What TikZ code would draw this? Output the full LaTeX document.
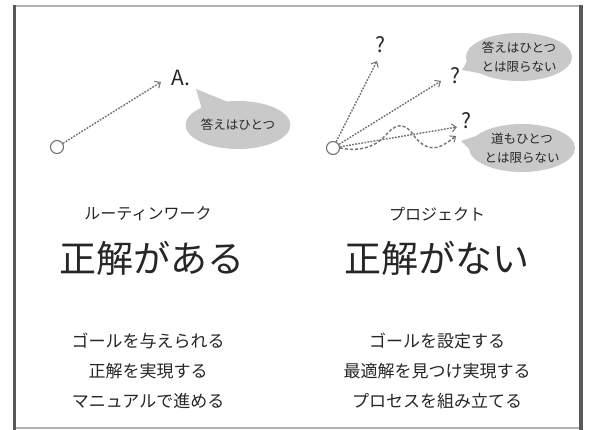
\documentclass[tikz,border=0pt]{standalone}
\usepackage{fontspec}
\setmainfont{Noto Sans CJK JP}
\usetikzlibrary{arrows.meta,shapes.geometric,shapes.callouts}
\definecolor{linegray}{HTML}{727272}
\definecolor{bubblegray}{HTML}{C9C9C9}
\definecolor{txt}{HTML}{262626}
\tikzset{
  origin/.style={circle,draw=linegray,line width=1.1pt,minimum size=13pt,inner sep=0pt},
  dotarrow/.style={draw=linegray,line width=1.4pt,dash pattern=on 1.8pt off 1.3pt,-{Straight Barb[length=4.5pt,width=8pt,line width=1pt]}},
  dasharrow/.style={draw=linegray,line width=1.4pt,dash pattern=on 3pt off 2pt,-{Straight Barb[length=4.5pt,width=8pt,line width=1pt]}},
  bubble/.style={ellipse callout,fill=bubblegray,inner sep=0pt,minimum width=88pt,minimum height=48pt,align=center,font=\fontsize{12.5}{19}\selectfont,text=txt,callout pointer arc=32},
  answer/.style={font=\fontsize{21}{24}\selectfont,text=txt,inner sep=0pt},
  cat/.style={font=\fontsize{16}{18}\selectfont,text=txt,inner sep=0pt},
  headline/.style={font=\fontsize{37}{40}\selectfont,text=txt,inner sep=0pt},
  item/.style={font=\fontsize{17}{20}\selectfont,text=txt,inner sep=0pt}
}
\begin{document}
\begin{tikzpicture}[x=1pt,y=-1pt]
\useasboundingbox (0,0) rectangle (593,430);
\fill[white] (0,0) rectangle (593,430);
% frame
\draw[draw=gray!60,line width=1.5pt] (15,5.8) rectangle (581,428);
\draw[draw=black!65,line width=3pt] (14.5,5) -- (14.5,430);
\draw[draw=black!65,line width=4pt] (581,5) -- (581,430);

% left diagram
\node[origin] (o1) at (57,147) {};
\node[answer] (A) at (181,78) {A.};
\coordinate (a1end) at (161,82);
\draw[dotarrow] (o1) -- (a1end);
\node[bubble,callout absolute pointer={(196,89)}] (b1) at (238,125) {答えはひとつ};

% right diagram
\node[origin] (o2) at (333,148) {};
\node[answer] (q1) at (380,45) {?};
\node[answer] (q2) at (455,76) {?};
\node[answer] (q3) at (466,121) {?};
\coordinate (e1) at (377,61);
\coordinate (e2) at (441,81);
\coordinate (e3) at (457,127);
\coordinate (e4) at (456,136);
\draw[dotarrow] (o2) -- (e1);
\draw[dotarrow] (o2) -- (e2);
\draw[dotarrow] (o2) -- (e3);
\draw[dasharrow] (o2.east) .. controls (350,150) and (370,152) .. (385,136)
   .. controls (395,124) and (403,122) .. (412,133)
   .. controls (420,145) and (430,151) .. (441,146)
   .. controls (447,143) and (452,139) .. (e4);
\node[bubble,callout absolute pointer={(462,70)}] (b2) at (519,57) {答えはひとつ\\とは限らない};
\node[bubble,minimum width=90pt,callout absolute pointer={(461,141)}] (b3) at (522,148) {道もひとつ\\とは限らない};

% text left
\node[cat] (c1) at (148,214) {ルーティンワーク};
\node[headline] (h1) at (152,258) {正解がある};
\node[item] (l1) at (148,341) {ゴールを与えられる};
\node[item] (l2) at (148,371) {正解を実現する};
\node[item] (l3) at (148,401) {マニュアルで進める};

% text right
\node[cat] (c2) at (437,214) {プロジェクト};
\node[headline] (h2) at (437,258) {正解がない};
\node[item] (r1) at (437,341) {ゴールを設定する};
\node[item] (r2) at (437,371) {最適解を見つけ実現する};
\node[item] (r3) at (437,401) {プロセスを組み立てる};
\end{tikzpicture}
\end{document}
